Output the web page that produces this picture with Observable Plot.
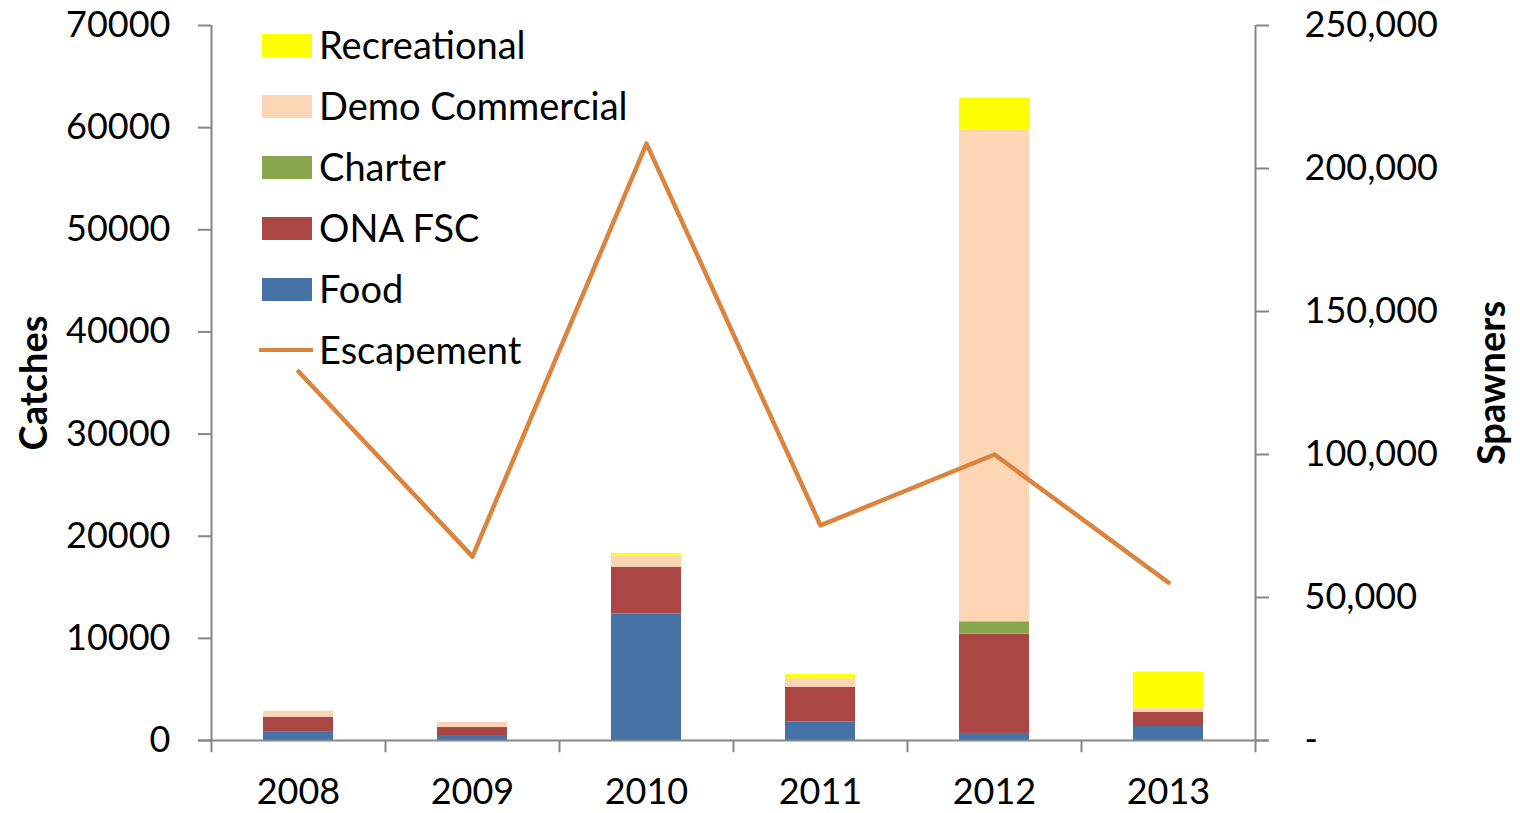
<!DOCTYPE html>
<html>
<head>
<meta charset="utf-8">
<script src="https://cdn.jsdelivr.net/npm/d3@7"></script>
<script src="https://cdn.jsdelivr.net/npm/@observablehq/plot@0.6"></script>
<style>
  html, body { margin: 0; padding: 0; background: #fff; }
  #wrap { position: relative; width: 1520px; height: 813px; overflow: hidden; }
  #legend { position: absolute; left: 262px; top: 27px; font-family: Lato, "Open Sans", sans-serif; font-size: 38px; color: #000; }
  .row { position: relative; height: 61px; }
  .sw { position: absolute; left: 0; top: 7px; width: 50px; height: 23px; }
  .ln { position: absolute; left: -3px; top: 16px; width: 54px; height: 4px; }
  .lbl { position: absolute; left: 57px; top: -5px; white-space: nowrap; line-height: 1.2; }
  .ytitle { position: absolute; font-family: Lato, sans-serif; font-weight: bold; font-size: 38px; white-space: nowrap; transform: translate(-50%, -50%) rotate(-90deg); }
</style>
</head>
<body>
<div id="wrap"></div>
<script>
// ---- data ----
const years = ["2008", "2009", "2010", "2011", "2012", "2013"];
const seriesNames = ["Food", "ONA FSC", "Charter", "Demo Commercial", "Recreational"];
const seriesColors = ["#4572A7", "#AA4643", "#89A54E", "#FCD5B5", "#FFFF00"];
const food = [800, 490, 12400, 1830, 690, 1370];
const onaFsc = [1480, 780, 4570, 3390, 9720, 1400];
const charter = [0, 0, 0, 0, 1210, 0];
const demoCommercial = [590, 490, 1070, 820, 48170, 390];
const recreational = [0, 0, 270, 420, 3100, 3530];
const escapement = [129000, 64300, 208700, 75200, 100000, 55200];
const leftTicks = [0, 10000, 20000, 30000, 40000, 50000, 60000, 70000];
const rightTicks = [0, 50000, 100000, 150000, 200000, 250000];
const legendOrder = ["Recreational", "Demo Commercial", "Charter", "ONA FSC", "Food"];

// ---- build ----
const seriesValues = [food, onaFsc, charter, demoCommercial, recreational];
const rows = [];
seriesNames.forEach((s, i) => years.forEach((y, j) => rows.push({year: y, series: s, value: seriesValues[i][j]})));
const ratio = 70000 / 250000;
const escRows = years.map((y, j) => ({year: y, esc: escapement[j]}));
const axisColor = "#868686";
const half = 87; // half a category step

const chart = Plot.plot({
  width: 1520, height: 813,
  marginLeft: 211, marginRight: 265, marginTop: 25, marginBottom: 73,
  style: {fontFamily: "Lato, 'Open Sans', sans-serif", fontSize: "36px", color: "#000", background: "#fff"},
  x: {domain: years, paddingInner: 0.6, paddingOuter: 0.3, axis: null},
  y: {domain: [0, 70000], axis: null},
  color: {domain: seriesNames, range: seriesColors},
  marks: [
    Plot.barY(rows, {x: "year", y: "value", fill: "series", order: seriesNames}),
    // axis lines
    Plot.ruleX([years[0]], {dx: -half, y1: 0, y2: 70000, stroke: axisColor, strokeWidth: 2}),
    Plot.ruleX([years[years.length - 1]], {dx: half, y1: 0, y2: 70000, stroke: axisColor, strokeWidth: 2}),
    Plot.ruleY([0], {stroke: axisColor, strokeWidth: 2, insetLeft: -13, insetRight: -13}),
    // category boundary ticks
    Plot.ruleX(years, {dx: -half, y1: 0, y2: -1200, stroke: axisColor, strokeWidth: 2}),
    Plot.ruleX([years[years.length - 1]], {dx: half, y1: 0, y2: -1200, stroke: axisColor, strokeWidth: 2}),
    Plot.axisX({tickSize: 0, tickPadding: 38, fontSize: 36, label: null}),
    Plot.axisY(leftTicks, {anchor: "left", tickSize: 13, tickPadding: 28, stroke: axisColor, strokeWidth: 2, tickFormat: d => String(d), label: null, fontSize: 36}),
    Plot.axisY(rightTicks.map(v => v * ratio), {anchor: "right", tickSize: 13, tickPadding: 36, stroke: axisColor, strokeWidth: 2, tickFormat: d => { const v = Math.round(d / ratio); return v === 0 ? "-" : d3.format(",")(v); }, label: null, fontSize: 36}),
    Plot.line(escRows, {x: "year", y: d => d.esc * ratio, stroke: "#DB843D", strokeWidth: 4.5})
  ]
});

const wrap = document.getElementById("wrap");
wrap.appendChild(chart);

// legend
const legend = document.createElement("div");
legend.id = "legend";
legendOrder.forEach(name => {
  const r = document.createElement("div"); r.className = "row";
  const sw = document.createElement("div"); sw.className = "sw"; sw.style.background = seriesColors[seriesNames.indexOf(name)];
  const l = document.createElement("div"); l.className = "lbl"; l.textContent = name;
  r.appendChild(sw); r.appendChild(l); legend.appendChild(r);
});
{
  const r = document.createElement("div"); r.className = "row";
  const ln = document.createElement("div"); ln.className = "ln"; ln.style.background = "#DB843D";
  const l = document.createElement("div"); l.className = "lbl"; l.textContent = "Escapement";
  r.appendChild(ln); r.appendChild(l); legend.appendChild(r);
}
wrap.appendChild(legend);

// axis titles
const t1 = document.createElement("div"); t1.className = "ytitle"; t1.textContent = "Catches";
t1.style.left = "32px"; t1.style.top = "383px"; wrap.appendChild(t1);
const t2 = document.createElement("div"); t2.className = "ytitle"; t2.textContent = "Spawners";
t2.style.left = "1490px"; t2.style.top = "383px"; wrap.appendChild(t2);
</script>
</body>
</html>
